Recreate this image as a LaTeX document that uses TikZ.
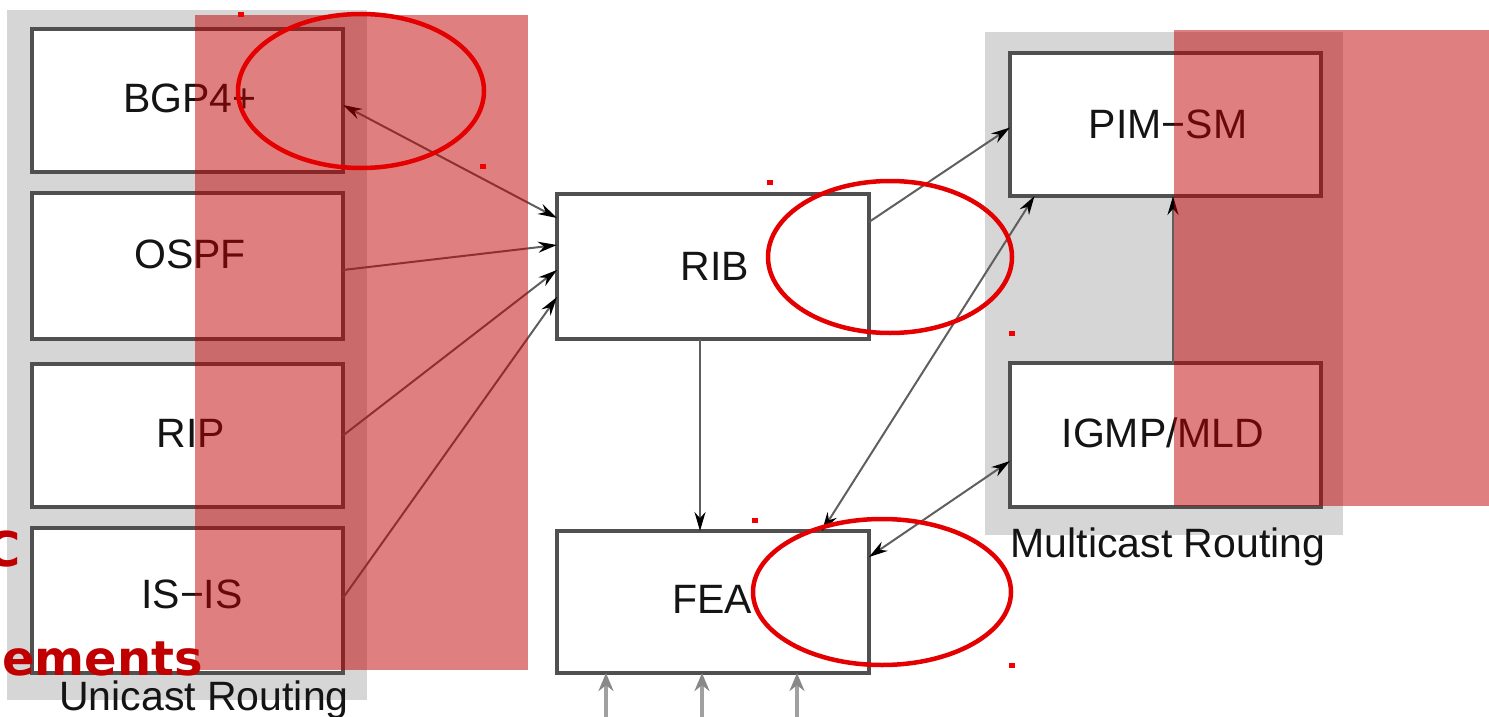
\documentclass[tikz,border=0pt]{standalone}
\usepackage{fontspec}
\setmainfont{Liberation Sans}
\newfontfamily\dvsans{DejaVu Sans}
\usetikzlibrary{arrows.meta,calc}

\definecolor{panelgrey}{RGB}{214,214,214}
\definecolor{boxline}{RGB}{80,80,80}
\definecolor{wireline}{RGB}{95,95,95}
\definecolor{feedgrey}{RGB}{160,160,160}
\definecolor{markred}{RGB}{192,0,0}
\definecolor{ringred}{RGB}{228,0,0}
\definecolor{speckred}{RGB}{240,0,0}
\definecolor{labelink}{RGB}{20,20,20}

\begin{document}
\begin{tikzpicture}[x=1pt,y=-1pt,
  panel/.style={fill=panelgrey,draw=none},
  modbox/.style={draw=boxline,line width=3.5pt,fill=white,inner sep=0pt,outer sep=0pt},
  lbl/.style={anchor=base,inner sep=0pt,text=labelink,font=\fontsize{41}{41}\selectfont},
  tip/.style={},
  wire/.style={draw=wireline,line width=2pt,-{Stealth[length=19pt,width=11pt,color=black]}},
  wirepair/.style={draw=wireline,line width=2pt,{Stealth[length=19pt,width=11pt,color=black]}-{Stealth[length=19pt,width=11pt,color=black]}},
  feed/.style={draw=feedgrey,line width=3.5pt,-{Stealth[length=18pt,width=15pt,color=feedgrey!85!black]}},
  veil/.style={fill=markred,fill opacity=0.5,draw=none},
  ring/.style={draw=ringred,line width=4.5pt},
  speck/.style={fill=speckred,draw=none},
  redtxt/.style={inner sep=0pt,anchor=base west,text=markred,font=\dvsans\bfseries\fontsize{48}{48}\selectfont}
]
\useasboundingbox (0,0) rectangle (1489,717);

% group panels
\fill[panel] (7,10) rectangle (367,700);
\fill[panel] (985,32) rectangle (1343,535);

% unicast protocol modules
\node[modbox,minimum width=311pt,minimum height=143pt] (bgp)  at (187.5,100.5) {};
\node[modbox,minimum width=311pt,minimum height=146pt] (ospf) at (187.5,266) {};
\node[modbox,minimum width=311pt,minimum height=143pt] (rip)  at (187.5,435.5) {};
\node[modbox,minimum width=311pt,minimum height=145pt] (isis) at (187.5,600.5) {};

% core modules
\node[modbox,minimum width=312pt,minimum height=145pt] (rib) at (713,266.5) {};
\node[modbox,minimum width=312pt,minimum height=142pt] (fea) at (713,602) {};

% multicast modules
\node[modbox,minimum width=311pt,minimum height=143pt] (pim)  at (1165.5,124.5) {};
\node[modbox,minimum width=311pt,minimum height=144pt] (igmp) at (1165.5,435) {};

% module names
\node[lbl] (bgpt)  at (190,113) {BGP4+};
\node[lbl] (ospft) at (190,268) {OSPF};
\node[lbl] (ript)  at (191,447) {RIP};
\node[lbl] (isist) at (192,608) {IS−IS};
\node[lbl] (ribt)  at (715,280) {RIB};
\node[lbl] (feat)  at (712,613) {FEA};
\node[lbl] (pimt)  at (1168,138) {PIM−SM};
\node[lbl] (igmpt) at (1163,447) {IGMP/MLD};
\node[lbl] (unit)  at (204,710) {Unicast Routing};
\node[lbl] (mult)  at (1168,557) {Multicast Routing};

% routes into the RIB
\draw[wirepair] ([yshift=-4.5pt]bgp.east) -- ([yshift=48.5pt]rib.west);
\draw[wire] ([yshift=-4pt]ospf.east) -- ([yshift=21.5pt]rib.west);
\draw[wire] (rip.east) -- ([yshift=-3.5pt]rib.west);
\draw[wire] ([yshift=2.5pt]isis.east) -- ([yshift=-30.5pt]rib.west);

% RIB and FEA links
\draw[wire] ([xshift=-13pt]rib.south) -- ([xshift=-13pt]fea.north);
\draw[wire] ([yshift=44.5pt]rib.east) -- ([yshift=-3pt]pim.west);
\draw[wirepair] ([xshift=109pt]fea.north) -- ([xshift=-131pt]pim.south);
\draw[wirepair] ([yshift=45pt]fea.east) -- ([yshift=-26pt]igmp.west);
\draw[wire] ([xshift=7.5pt]igmp.north) -- ([xshift=7.5pt]pim.south);

% inputs to the FEA from below
\coordinate (in1) at (606,717);
\coordinate (in2) at (702,717);
\coordinate (in3) at (797,717);
\draw[feed] (in1) -- (in1 |- fea.south);
\draw[feed] (in2) -- (in2 |- fea.south);
\draw[feed] (in3) -- (in3 |- fea.south);

% translucent highlight bands
\fill[veil] (195,15) rectangle (528,670);
\fill[veil] (1174,30) rectangle (1489,506);

% circled spots
\draw[ring] (361,91) ellipse [x radius=123pt, y radius=77pt];
\draw[ring] (890,257) ellipse [x radius=122pt, y radius=76pt];
\draw[ring] (882,592) ellipse [x radius=129pt, y radius=73pt];

% small marks
\foreach \px/\py in {241/15, 483/166, 770/182, 1012/333, 755/520, 1012/665}
  \fill[speck] (\px-3,\py-2.5) rectangle (\px+3,\py+2.5);

% clipped caption fragments
\node[redtxt] (frag1) at (-15,566) {C};
\node[redtxt] (frag2) at (2,675) {ements};
\end{tikzpicture}
\end{document}
